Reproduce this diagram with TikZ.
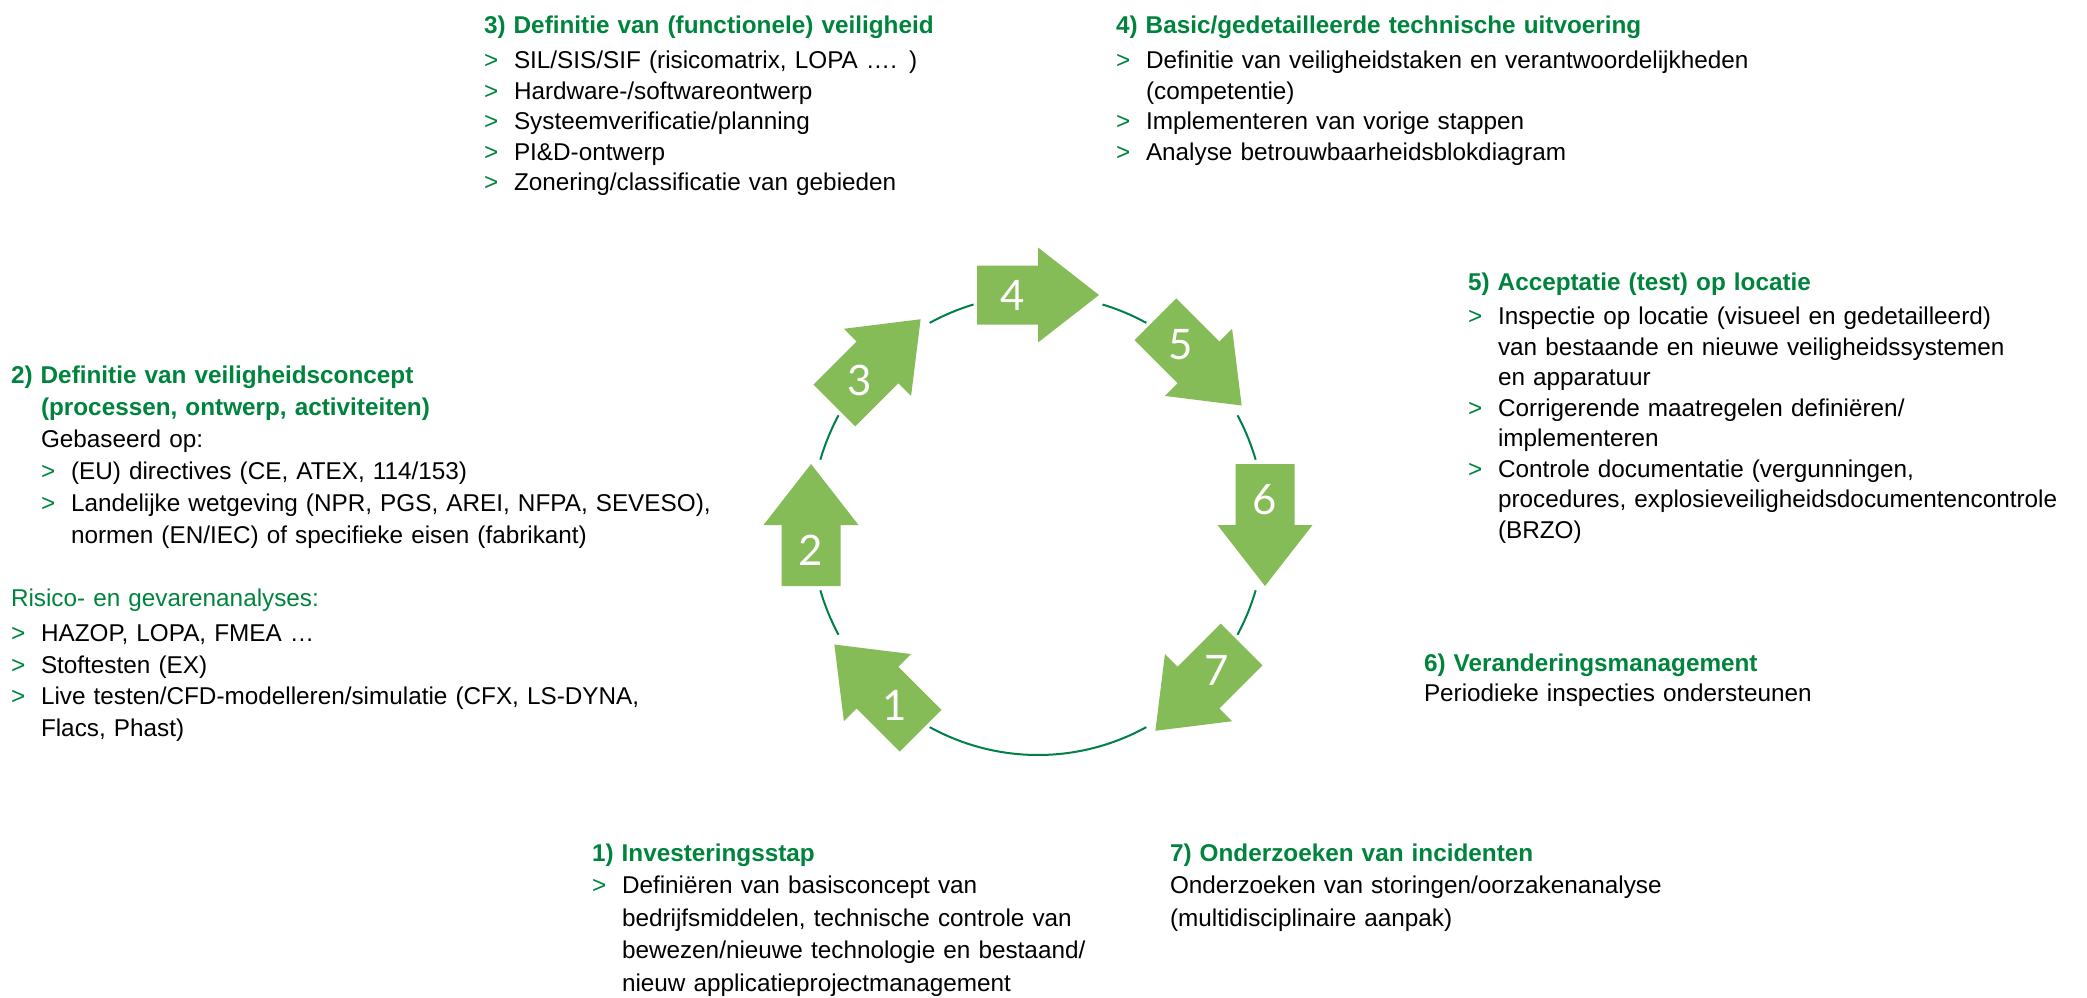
\documentclass[tikz,border=0pt]{standalone}
\usepackage{fontspec}
\setmainfont{Liberation Sans}
\newfontfamily\numfont{Lato}
\usetikzlibrary{calc}
\definecolor{hdgreen}{RGB}{0,132,61}
\definecolor{arrowgreen}{RGB}{134,188,87}
\definecolor{linegreen}{RGB}{0,128,72}
\newcommand\hd[1]{\textcolor{hdgreen}{\bfseries #1}}
\newcommand\bul{\makebox[15pt][l]{\textcolor{hdgreen}{>}}}
\newcommand\cont{\hspace*{15pt}}
\newcommand\indtwo{\hspace*{15pt}}
\begin{document}
\begin{tikzpicture}[x=0.5pt,y=-0.5pt,
  txt/.style={anchor=base west, inner sep=0pt, outer sep=0pt, text width=360pt, align=left, font=\fontsize{12.15}{15.25}\selectfont},
  txtr/.style={txt, font=\fontsize{12.15}{15.75}\selectfont},
  txtw/.style={txt, font=\fontsize{12.15}{16.25}\selectfont},
  txtb/.style={txt, font=\fontsize{12.15}{16}\selectfont},
  ring/.style={draw=linegreen, line width=1pt},
  blockarrow/.style={fill=arrowgreen},
  num/.style={text=white, font=\numfont\fontsize{21}{21}\selectfont, inner sep=0pt}]
\useasboundingbox (0,0) rectangle (2087,997);

% cycle
\begin{scope}[shift={(1038,525)}, yscale=-1]
  \foreach \s/\e in {196.5/208.5, 151.5/163.5, 106.5/118.5, 61.5/73.5, 16.5/28.5, -28.5/-16.5, -118.5/-61.5}
    \draw[ring] (\s:227 and 230) arc[start angle=\s, end angle=\e, x radius=227, y radius=230];
  \foreach \a/\n in {225/1,180/2,135/3,90/4,45/5,0/6,-45/7}{
    \fill[blockarrow, shift={(\a:227 and 230)}, rotate={90-\a}]
      (-61,-29.5) -- (0,-29.5) -- (0,-47.5) -- (61,0) -- (0,47.5) -- (0,29.5) -- (-61,29.5) -- cycle;
    \node[num] (n\n) at ($(\a:227 and 230)+(\a+90:25)$) {\n};
  }
\end{scope}

% text blocks
\node[txt] (b3) at (484,33) {\hd{3) Definitie van (functionele) veiligheid}\\[2.5pt]
\bul SIL/SIS/SIF (risicomatrix, LOPA …. )\\
\bul Hardware-/softwareontwerp\\
\bul Systeemverificatie/planning\\
\bul PI\&D-ontwerp\\
\bul Zonering/classificatie van gebieden};

\node[txt] (b4) at (1116,33) {\hd{4) Basic/gedetailleerde technische uitvoering}\\[2.5pt]
\bul Definitie van veiligheidstaken en verantwoordelijkheden\\
\cont(competentie)\\
\bul Implementeren van vorige stappen\\
\bul Analyse betrouwbaarheidsblokdiagram};

\node[txt] (b5) at (1468,290) {\hd{5) Acceptatie (test) op locatie}\\[2pt]
\bul Inspectie op locatie (visueel en gedetailleerd)\\
\cont van bestaande en nieuwe veiligheidssystemen\\
\cont en apparatuur\\
\bul Corrigerende maatregelen definiëren/\\
\cont implementeren\\
\bul Controle documentatie (vergunningen,\\
\cont procedures, explosieveiligheidsdocumentencontrole\\
\cont (BRZO)};

\node[txtb] (b2) at (11,383) {\hd{2) Definitie van veiligheidsconcept}\\
\indtwo\hd{(processen, ontwerp, activiteiten)}\\
\indtwo Gebaseerd op:\\
\indtwo\bul (EU) directives (CE, ATEX, 114/153)\\
\indtwo\bul Landelijke wetgeving (NPR, PGS, AREI, NFPA, SEVESO),\\
\indtwo\cont normen (EN/IEC) of specifieke eisen (fabrikant)};

\node[txtr] (b2r) at (11,606) {\textcolor{hdgreen}{Risico- en gevarenanalyses:}\\[2pt]
\bul HAZOP, LOPA, FMEA …\\
\bul Stoftesten (EX)\\
\bul Live testen/CFD-modelleren/simulatie (CFX, LS-DYNA,\\
\cont Flacs, Phast)};

\node[txt] (b6) at (1424,671) {\hd{6) Veranderingsmanagement}\\
Periodieke inspecties ondersteunen};

\node[txtw] (b1) at (592,861) {\hd{1) Investeringsstap}\\
\bul Definiëren van basisconcept van\\
\cont bedrijfsmiddelen, technische controle van\\
\cont bewezen/nieuwe technologie en bestaand/\\
\cont nieuw applicatieprojectmanagement};

\node[txtw] (b7) at (1170,861) {\hd{7) Onderzoeken van incidenten}\\
Onderzoeken van storingen/oorzakenanalyse\\
(multidisciplinaire aanpak)};
\end{tikzpicture}
\end{document}
